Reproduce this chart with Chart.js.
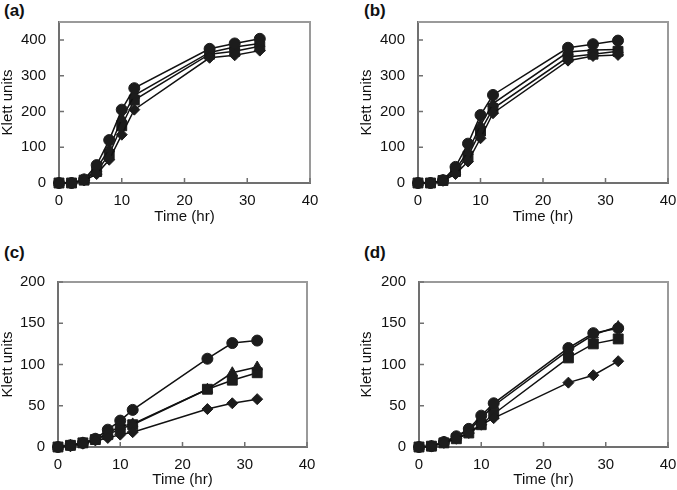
<!DOCTYPE html>
<html lang="en">
<head>
    <meta charset="UTF-8">
    <title>Klett growth curves</title>
    <script src="https://cdn.jsdelivr.net/npm/chart.js"></script>
    <style>
        body { margin: 0; background: #fff; }
        #page { position: relative; width: 677px; height: 490px; overflow: hidden; font-family: "Liberation Sans", Arial, sans-serif; }
        .panel { position: absolute; width: 330px; }
        .tag { position: absolute; font-size: 17px; font-weight: bold; color: #111; }
    </style>
</head>
<body>
    <div id="page">
        <div class="tag" style="left:4px; top:1px;">(a)</div>
        <div class="tag" style="left:364px; top:1px;">(b)</div>
        <div class="tag" style="left:4px; top:243px;">(c)</div>
        <div class="tag" style="left:364px; top:243px;">(d)</div>
        <div class="panel" style="left:0px; top:0px; height:230px;"><canvas id="chartA"></canvas></div>
        <div class="panel" style="left:359px; top:0px; height:230px;"><canvas id="chartB"></canvas></div>
        <div class="panel" style="left:0px; top:240px; height:250px;"><canvas id="chartC"></canvas></div>
        <div class="panel" style="left:359px; top:240px; height:250px;"><canvas id="chartD"></canvas></div>
    </div>
    <script>
        // sampling times (hr)
        const hours = [0, 2, 4, 6, 8, 10, 12, 24, 28, 32];

        // panel (a)
        const aCircle   = [0, 0, 10, 50, 120, 205, 265, 375, 390, 403];
        const aTriangle = [0, 0, 9, 40, 95, 180, 245, 365, 380, 390];
        const aSquare   = [0, 0, 8, 32, 80, 160, 232, 360, 368, 382];
        const aDiamond  = [0, 0, 7, 25, 65, 135, 205, 350, 357, 370];

        // panel (b)
        const bCircle   = [0, 0, 8, 45, 110, 190, 246, 378, 388, 398];
        const bTriangle = [0, 0, 7, 37, 88, 162, 222, 366, 372, 373];
        const bSquare   = [0, 0, 7, 32, 75, 145, 208, 352, 360, 368];
        const bDiamond  = [0, 0, 6, 25, 60, 125, 195, 342, 355, 358];

        // panel (c)
        const cCircle   = [0, 2, 5, 10, 21, 32, 45, 107, 126, 129];
        const cTriangle = [0, 2, 5, 9, 17, 25, 28, 70, 90, 97];
        const cSquare   = [0, 2, 5, 9, 15, 22, 27, 70, 81, 90];
        const cDiamond  = [0, 1, 4, 8, 11, 15, 18, 46, 53, 58];

        // panel (d)
        const dCircle   = [0, 1, 6, 13, 22, 38, 53, 120, 138, 144];
        const dTriangle = [0, 1, 6, 12, 20, 35, 50, 117, 136, 146];
        const dSquare   = [0, 1, 5, 10, 17, 27, 40, 108, 125, 131];
        const dDiamond  = [0, 1, 5, 10, 17, 27, 35, 78, 87, 104];

        // axis ticks
        const timeTicks = [0, 10, 20, 30, 40];
        const topKlettTicks = [0, 100, 200, 300, 400];
        const bottomKlettTicks = [0, 50, 100, 150, 200];

        const FONT = '"Liberation Sans", Arial, sans-serif';
        const markerColor = '#1c1c1c';

        function series(values, style, radius) {
            return {
                data: hours.map((h, i) => ({ x: h, y: values[i] })),
                borderColor: '#111',
                borderWidth: 1.5,
                pointStyle: style,
                pointRadius: radius,
                pointBackgroundColor: markerColor,
                pointBorderColor: markerColor,
                pointBorderWidth: 1,
                clip: false
            };
        }

        // inside tick marks plus the grey frame round the plot
        const frame = {
            id: 'frame',
            beforeDatasetsDraw(chart) {
                const ctx = chart.ctx;
                const area = chart.chartArea;
                const xs = chart.scales.x, ys = chart.scales.y;
                ctx.save();
                ctx.strokeStyle = '#9a9a9a';
                ctx.lineWidth = 2;
                ctx.beginPath();
                ctx.moveTo(area.left, area.top);
                ctx.lineTo(area.right, area.top);
                ctx.lineTo(area.right, area.bottom);
                ctx.stroke();
                ctx.strokeStyle = '#707070';
                ctx.lineWidth = 1.5;
                ctx.beginPath();
                xs.ticks.forEach(t => {
                    const px = xs.getPixelForValue(t.value);
                    ctx.moveTo(px, area.bottom);
                    ctx.lineTo(px, area.bottom - 5);
                });
                ys.ticks.forEach(t => {
                    const py = ys.getPixelForValue(t.value);
                    ctx.moveTo(area.left, py);
                    ctx.lineTo(area.left + 5, py);
                });
                ctx.stroke();
                ctx.restore();
            }
        };

        function makeChart(id, sets, yTicks, yMax, box) {
            const ctx = document.getElementById(id).getContext('2d');
            return new Chart(ctx, {
                type: 'line',
                data: {
                    // later datasets are drawn on top: squares end up uppermost as in the original
                    datasets: [
                        series(sets[3], 'rectRot', 5.5),
                        series(sets[0], 'circle', 5.5),
                        series(sets[1], 'triangle', 6),
                        series(sets[2], 'rect', 7)
                    ]
                },
                options: {
                    responsive: true,
                    maintainAspectRatio: false,
                    animation: false,
                    layout: { padding: { top: box.top, right: box.right, left: 0, bottom: 0 } },
                    plugins: { legend: { display: false }, tooltip: { enabled: false } },
                    scales: {
                        x: {
                            type: 'linear',
                            min: 0,
                            max: 40,
                            afterBuildTicks: s => { s.ticks = timeTicks.map(v => ({ value: v })); },
                            afterFit: s => { s.height = box.xh; },
                            grid: { display: false, drawTicks: false },
                            border: { display: true, color: '#707070', width: 2 },
                            ticks: { color: '#111', padding: 9, font: { family: FONT, size: 15 } },
                            title: {
                                display: true,
                                text: 'Time (hr)',
                                color: '#111',
                                font: { family: FONT, size: 15 },
                                padding: { top: 0, bottom: box.titlePad }
                            }
                        },
                        y: {
                            type: 'linear',
                            min: 0,
                            max: yMax,
                            afterBuildTicks: s => { s.ticks = yTicks.map(v => ({ value: v })); },
                            afterFit: s => { s.width = box.yw; },
                            grid: { display: false, drawTicks: false },
                            border: { display: true, color: '#707070', width: 2 },
                            ticks: { color: '#111', padding: 13, font: { family: FONT, size: 15 } },
                            title: {
                                display: true,
                                text: 'Klett units',
                                color: '#111',
                                font: { family: FONT, size: 15, lineHeight: 1 },
                                padding: 0
                            }
                        }
                    }
                },
                plugins: [frame]
            });
        }

        makeChart('chartA', [aCircle, aTriangle, aSquare, aDiamond], topKlettTicks, 450,
            { top: 19, right: 20, yw: 59, xh: 47, titlePad: 4 });
        makeChart('chartB', [bCircle, bTriangle, bSquare, bDiamond], topKlettTicks, 450,
            { top: 19, right: 21, yw: 59, xh: 47, titlePad: 4 });
        makeChart('chartC', [cCircle, cTriangle, cSquare, cDiamond], bottomKlettTicks, 200,
            { top: 42, right: 23, yw: 58, xh: 43, titlePad: 1 });
        makeChart('chartD', [dCircle, dTriangle, dSquare, dDiamond], bottomKlettTicks, 200,
            { top: 42, right: 21, yw: 60, xh: 43, titlePad: 1 });
    </script>
</body>
</html>
